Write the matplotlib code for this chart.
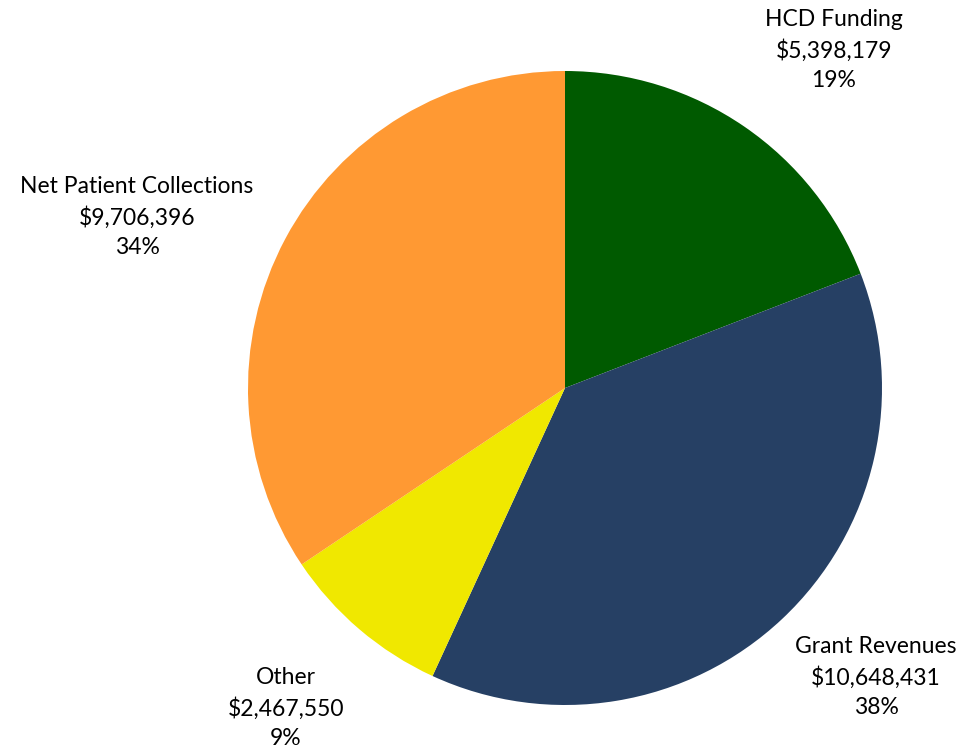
import matplotlib
matplotlib.use("Agg")
import matplotlib.pyplot as plt

categories = ["HCD Funding", "Grant Revenues", "Other", "Net Patient Collections"]
amounts = [5398179, 10648431, 2467550, 9706396]
percents = ["19%", "38%", "9%", "34%"]
colors = ["#005a00", "#264064", "#f0e800", "#ff9933"]

# label centres in pixel coords (y measured from bottom)
label_pos = [(834, 704), (876, 77), (286, 46), (137, 537)]

plt.rcParams['font.family'] = ['Lato', 'DejaVu Sans']

fig = plt.figure(figsize=(9.65, 7.54), dpi=100)
ax = fig.add_axes([0, 0, 1, 1])
ax.axis("off")

ax.pie(amounts, colors=colors, startangle=90, counterclock=False,
       center=(565, 366), radius=317,
       wedgeprops=dict(linewidth=0))
ax.set_xlim(0, 965)
ax.set_ylim(0, 754)
ax.set_aspect("equal")

for name, amt, pct, (x, y) in zip(categories, amounts, percents, label_pos):
    ax.text(x, y, f"{name}\n${amt:,}\n{pct}", ha="center", va="center",
            fontsize=16.5, linespacing=1.5, color="black")

fig.savefig("out.png", dpi=100)
